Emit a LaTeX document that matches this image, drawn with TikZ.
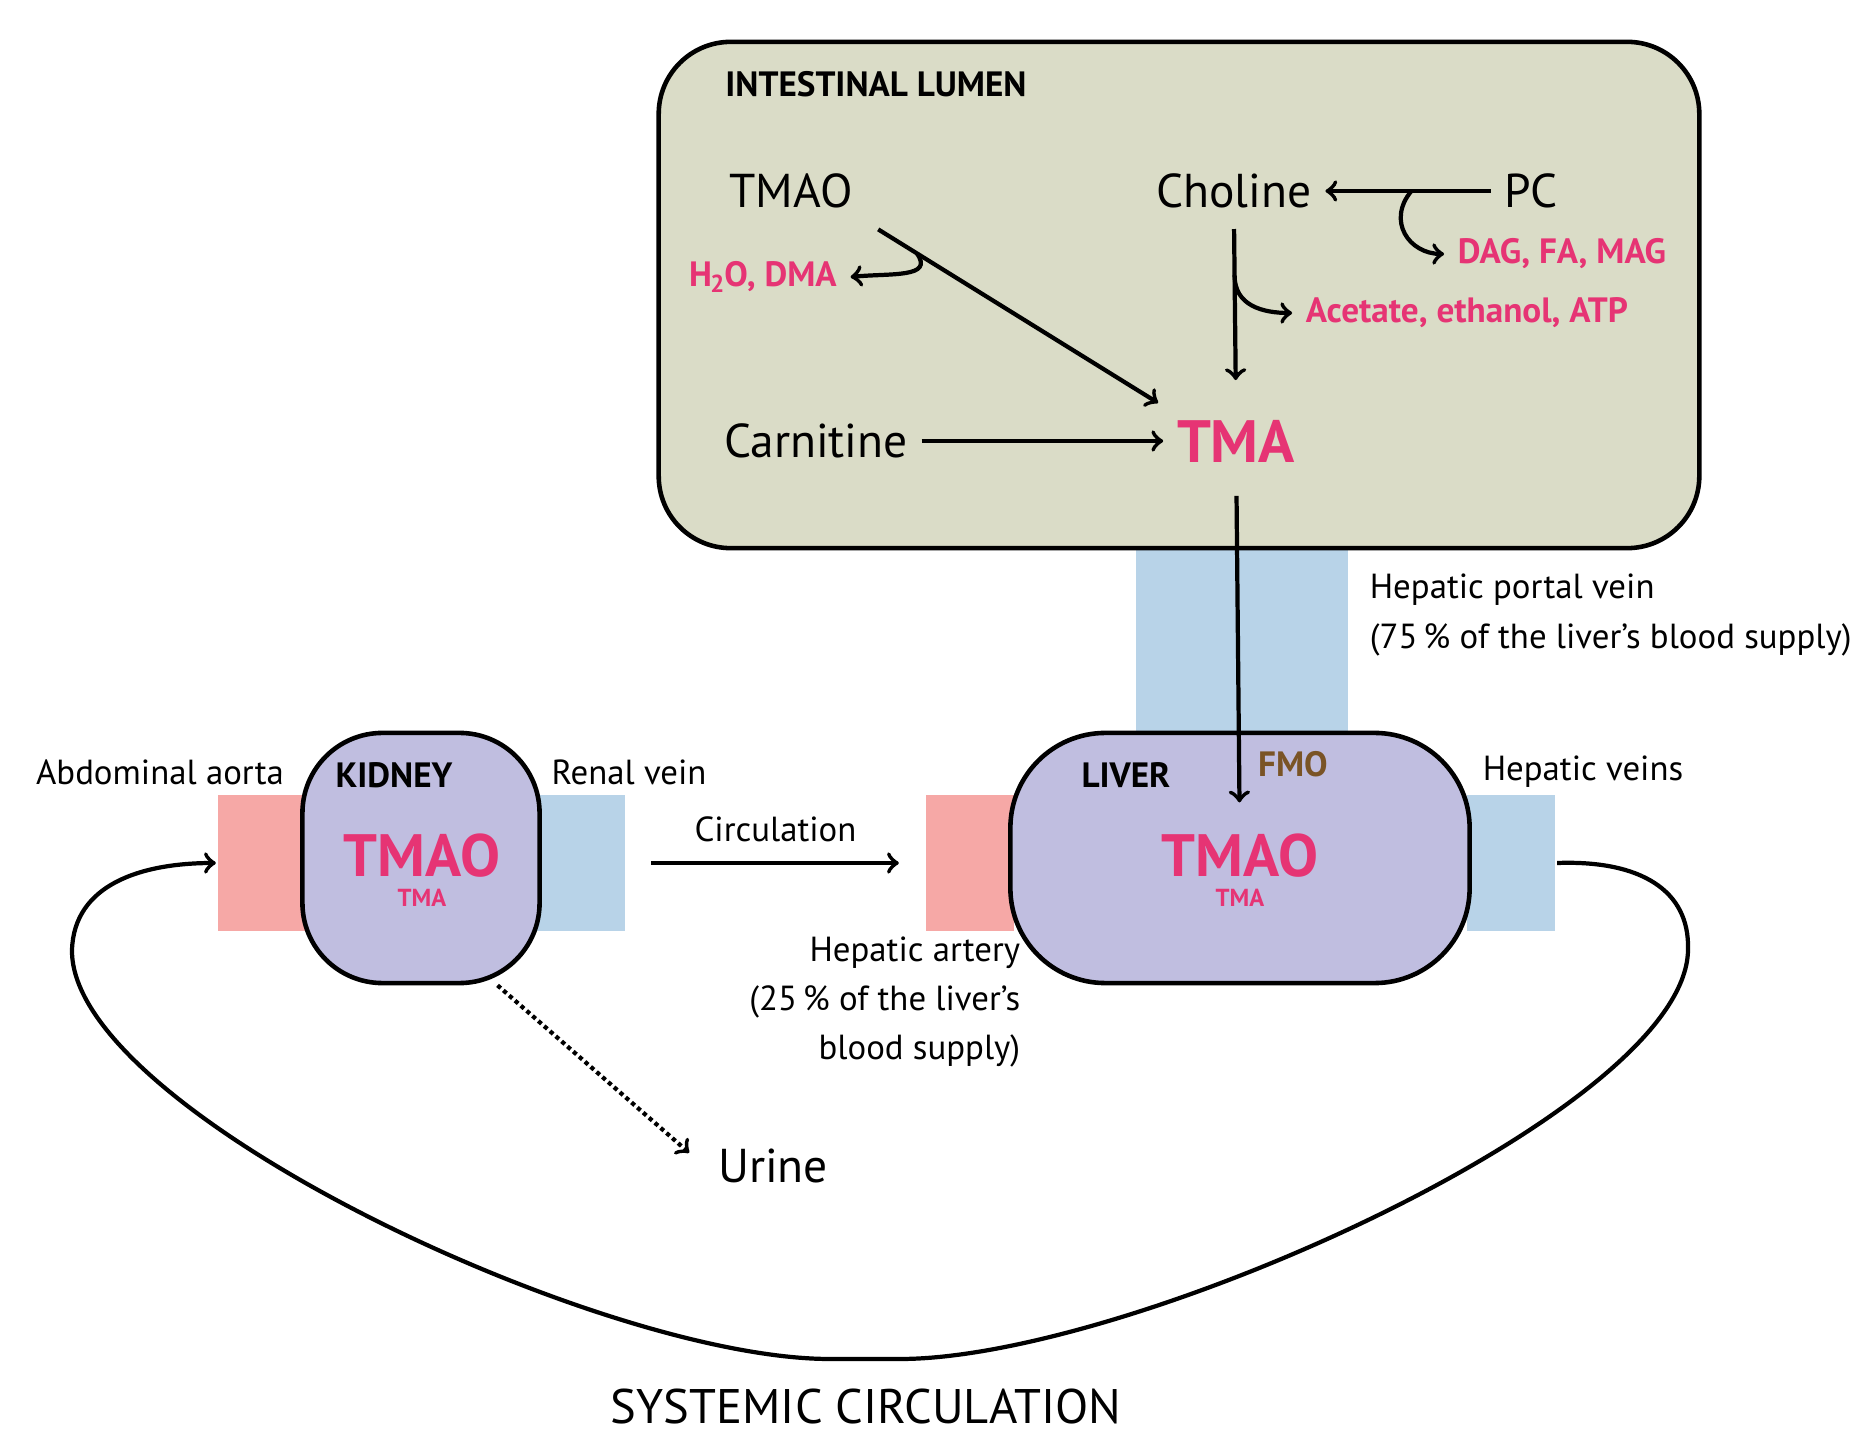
\documentclass[tikz,border=0pt]{standalone}
\usepackage{fontspec}
\setmainfont{PT Sans}
\usetikzlibrary{arrows,positioning}
\definecolor{lumenbg}{RGB}{218,220,199}
\definecolor{organbg}{RGB}{192,190,224}
\definecolor{veinbg}{RGB}{184,211,232}
\definecolor{arterybg}{RGB}{246,168,166}
\definecolor{tmapink}{RGB}{230,52,116}
\definecolor{fmobrown}{RGB}{122,84,38}

\begin{document}
\begin{tikzpicture}[x=0.01cm,y=-0.01cm,>=to,line width=1.2pt]
	  \tikzstyle{organ}=[draw=black,line width=1.3pt,fill=organbg,rounded corners=0.8cm,minimum height=2.5cm,inner sep=0pt]
	  \tikzstyle{vessel}=[inner sep=0pt,minimum width=0.88cm,minimum height=1.35cm]
	  \tikzstyle{metab}=[font=\fontsize{13.5}{16}\selectfont]
	  \tikzstyle{lbl}=[font=\fontsize{9.9}{12}\selectfont]
	  \tikzstyle{organname}=[font=\bfseries\fontsize{10}{12}\selectfont]
	  \tikzstyle{product}=[text=tmapink,font=\bfseries\fontsize{10}{12}\selectfont]
	  \tikzstyle{bigpink}=[text=tmapink,font=\bfseries\fontsize{17}{20}\selectfont]
	  \tikzstyle{tracepink}=[text=tmapink,font=\bfseries\fontsize{7}{8}\selectfont]

	  \useasboundingbox (0,0) rectangle (1869,1437);

	  \node[vessel,fill=veinbg,minimum width=2.12cm,minimum height=1.9cm] (portal) at (1242,640) {};
	  \node[vessel,fill=arterybg] (artery) at (970,863) {};
	  \node[vessel,fill=veinbg] (hepveins) at (1511,863) {};
	  \node[vessel,fill=arterybg] (aorta) at (262,863) {};
	  \node[vessel,fill=veinbg] (renal) at (581,863) {};

	  \node[organ,fill=lumenbg,rounded corners=0.72cm,minimum width=10.4cm,minimum height=5.06cm] (lumen) at (1179,295) {};
	  \node[organ,rounded corners=0.95cm,minimum width=4.59cm] (liver) at (1240,858) {};
	  \node[organ,minimum width=2.37cm] (kidney) at (421,858) {};

	  \node[organname] (lumenname) at (876,84) {INTESTINAL LUMEN};
	  \node[metab] (lumtmao) at (791,191) {TMAO};
	  \node[metab] (choline) at (1234,191) {Choline};
	  \node[metab] (pc) at (1531,191) {PC};
	  \node[product] (h2o) at (763,277) {H\kern-0.5pt\textsubscript{2}\kern-0.5pt O, DMA};
	  \node[product] (dag) at (1562,254) {DAG, FA, MAG};
	  \node[product] (acetate) at (1467,313) {Acetate, ethanol, ATP};
	  \node[metab] (carnitine) at (816,441) {Carnitine};
	  \node[bigpink] (tma) at (1236,441) {TMA};

	  \node[lbl,anchor=west,align=left] (portalname) at (1356,615) {Hepatic portal vein\\[2pt](75\,\% of the liver’s blood supply)};
	  \node[organname] (livername) at (1126,775) {LIVER};
	  \node[organname,text=fmobrown] (fmo) at (1293,764) {FMO};
	  \node[bigpink] (livtmao) at (1240,856) {TMAO};
	  \node[tracepink] (livtma) at (1240,898) {TMA};
	  \node[lbl] (hepveinsname) at (1583,772) {Hepatic veins};
	  \node[lbl,anchor=east,align=right] (arteryname) at (1034,1002) {Hepatic artery\\[2pt](25\,\% of the liver’s\\[2pt]blood supply)};

	  \node[organname] (kidneyname) at (394,775) {KIDNEY};
	  \node[bigpink] (kidtmao) at (422,856) {TMAO};
	  \node[tracepink] (kidtma) at (422,898) {TMA};
	  \node[lbl] (aortaname) at (160,772) {Abdominal aorta};
	  \node[lbl] (renalname) at (629,772) {Renal vein};

	  \node[metab] (urine) at (773,1166) {Urine};
	  \node[metab,font=\fontsize{13.8}{16}\selectfont] (systemic) at (866,1407) {SYSTEMIC CIRCULATION};

	  \draw[->,shorten <=0.14cm,shorten >=0.06cm] (lumtmao.south east) -- coordinate[pos=0.17] (tmaofork) (tma.north west);
	  \draw[->] (tmaofork) .. controls +(18,25) and +(40,-4) .. (h2o.east);
	  \draw[->,shorten <=0.07cm,shorten >=0.26cm] (choline.south) -- coordinate[pos=0.29] (cholfork) (tma.north);
	  \draw[->] (cholfork) .. controls +(0,30) and +(-30,0) .. (acetate.west);
	  \draw[->] (pc.west) -- coordinate[pos=0.48] (pcfork) (choline.east);
	  \draw[->] (pcfork) .. controls +(-25,30) and +(-35,0) .. (dag.west);
	  \draw[->] (carnitine) -- (tma);
	  \draw[->,shorten <=0.2cm,shorten >=0.18cm] (tma) -- (livtmao);

	  \draw[->,shorten <=0.24cm,shorten >=0.25cm] (renal) -- node[lbl,above=2pt] (circname) {Circulation} (artery);
	  \draw[->,densely dotted,shorten >=0.2cm] (kidney.-59) -- (urine.west);

	  \draw[->] (hepveins.east) .. controls (1640,860) and (1690,890) .. (1688,950)
	    .. controls (1686,1110) and (1130,1359) .. (900,1359) -- (830,1359)
	    .. controls (600,1359) and (70,1110) .. (72,950)
	    .. controls (74,885) and (140,863) .. (aorta.west);
	\end{tikzpicture}
\end{document}
